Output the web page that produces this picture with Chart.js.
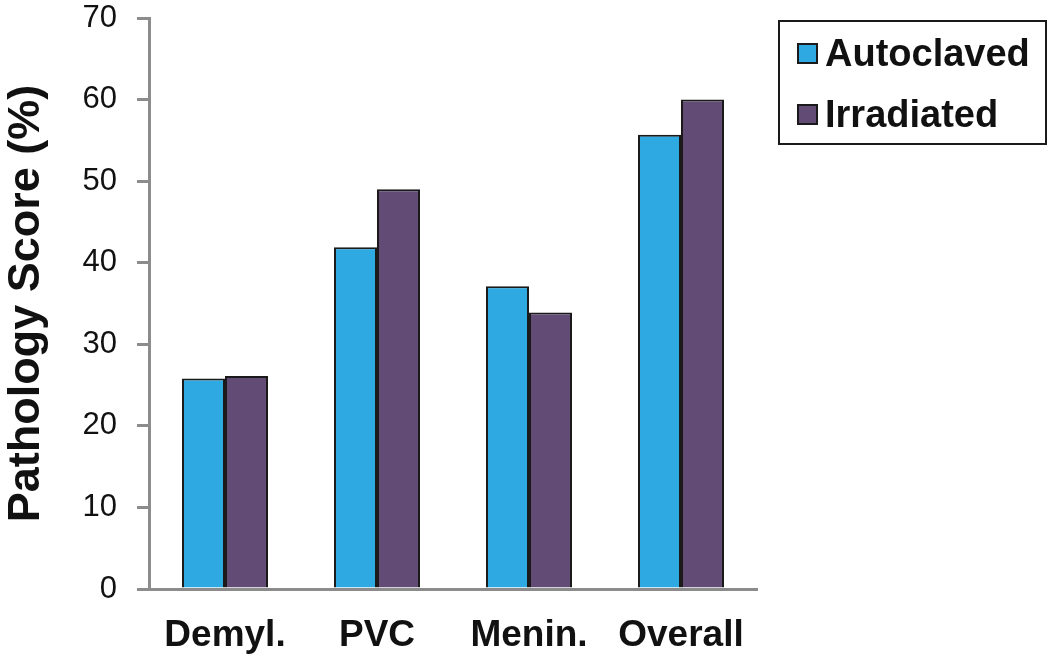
<!DOCTYPE html>
<html>
<head>
<meta charset="utf-8">
<script src="https://cdn.jsdelivr.net/npm/chart.js@4/dist/chart.umd.min.js"></script>
<style>
  body { margin: 0; background: #fff; font-family: "Liberation Sans", Arial, sans-serif; }
  #wrap { position: relative; width: 1050px; height: 657px; }
  #legend {
    position: absolute; left: 778px; top: 20px; width: 265px; height: 121px;
    border: 2px solid #1a1a1a; box-sizing: content-box;
  }
  .item { position: absolute; left: 17px; height: 40px; display: flex; align-items: center;
    font-weight: bold; font-size: 38px; color: #111; }
  .sw { width: 17px; height: 17px; border: 2px solid #1a1a1a; margin-right: 7px; }
</style>
</head>
<body>
<div id="wrap">
  <canvas id="myChart" width="1050" height="657"></canvas>
  <div id="legend"></div>
</div>
<script>
const categories = ['Demyl.', 'PVC', 'Menin.', 'Overall'];
const autoclaved = [25.8, 41.9, 37.1, 55.7];
const irradiated = [26.1, 49.0, 33.9, 60.0];
const seriesNames = ['Autoclaved', 'Irradiated'];
const seriesColors = ['#2EA9E1', '#624B74'];

// simple html legend with a box around it
const legendEl = document.getElementById('legend');
seriesNames.forEach(function (name, i) {
  const item = document.createElement('div');
  item.className = 'item';
  item.style.top = (i === 0 ? 11 : 72) + 'px';
  item.innerHTML = '<div class="sw" style="background:' + seriesColors[i] + '"></div>' + name;
  legendEl.appendChild(item);
});

var ctx = document.getElementById('myChart').getContext('2d');

var myBarChart = new Chart(ctx, {
  type: 'bar',
  data: {
    labels: categories,
    datasets: [
      {
        label: seriesNames[0],
        data: autoclaved,
        backgroundColor: seriesColors[0],
        borderColor: '#1a1a1a',
        borderWidth: 2,
        categoryPercentage: 0.566,
        barPercentage: 1
      },
      {
        label: seriesNames[1],
        data: irradiated,
        backgroundColor: seriesColors[1],
        borderColor: '#1a1a1a',
        borderWidth: 2,
        categoryPercentage: 0.566,
        barPercentage: 1
      }
    ]
  },
  options: {
    responsive: false,
    animation: false,
    layout: { padding: { top: 0, right: 293, left: 0, bottom: 0 } },
    plugins: { legend: { display: false }, tooltip: { enabled: false } },
    scales: {
      x: {
        grid: { display: false },
        border: { display: true, color: '#8c8c8c', width: 3 },
        ticks: {
          color: '#111',
          padding: 17,
          font: { family: 'Liberation Sans', size: 37, weight: 'bold' }
        },
        afterFit: function (scale) { scale.height = 68; }
      },
      y: {
        min: 0,
        max: 70,
        grid: { drawOnChartArea: false, tickLength: 12, color: '#8c8c8c', lineWidth: 3 },
        border: { display: true, color: '#8c8c8c', width: 3 },
        ticks: {
          stepSize: 10,
          color: '#111',
          padding: 20,
          font: { family: 'Liberation Sans', size: 31 }
        },
        title: {
          display: true,
          text: 'Pathology Score (%)',
          color: '#111',
          padding: 0,
          font: { family: 'Liberation Sans', size: 45, weight: 'bold' }
        },
        afterFit: function (scale) {
          scale.width = 149;
          // keep the top of the plot where the reference has it
          scale.paddingTop = 18;
          scale.paddingBottom = 0;
        }
      }
    }
  }
});
</script>
</body>
</html>
